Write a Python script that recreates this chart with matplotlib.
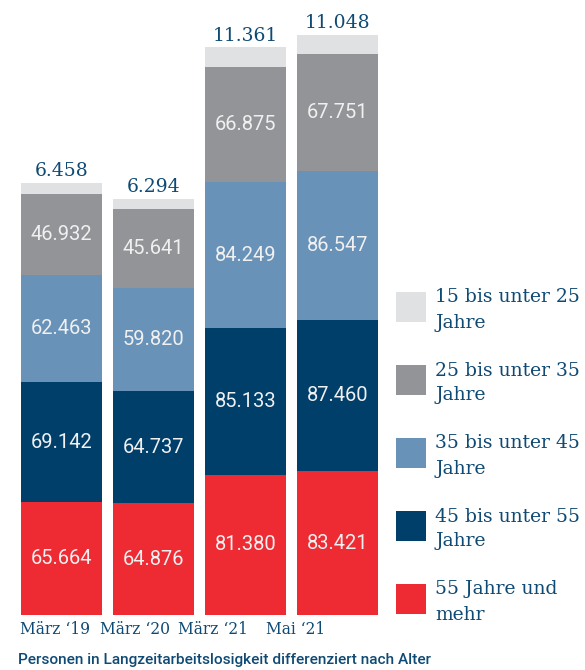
import numpy as np
import matplotlib
matplotlib.use('Agg')
import matplotlib.pyplot as plt
from matplotlib.patches import Rectangle

# data (Personen, Tausender-Punkt als Trennzeichen in den Labels)
categories = ['März \u201819', 'März \u201820', 'März \u201821', 'Mai \u201821']
age_groups = ['15 bis unter 25\nJahre', '25 bis unter 35\nJahre', '35 bis unter 45\nJahre',
              '45 bis unter 55\nJahre', '55 Jahre und\nmehr']
# stacked from bottom to top
age_55_plus = [65664, 64876, 81380, 83421]
age_45_55 = [69142, 64737, 85133, 87460]
age_35_45 = [62463, 59820, 84249, 86547]
age_25_35 = [46932, 45641, 66875, 67751]
age_15_25 = [6458, 6294, 11361, 11048]

navy = '#0f4a74'
colors = {'55': '#ee2a33', '45': '#013f6b', '35': '#6892b8', '25': '#939498', '15': '#e0e1e3'}
serif = ['DejaVu Serif']


def fmt(v):
    return f'{v:,}'.replace(',', '.')


fig = plt.figure(figsize=(5.85, 6.7), dpi=100)
ax = fig.add_axes([15.5 / 585, 55 / 670, 368 / 585, 586.5 / 670])

x = np.arange(len(categories))
series = [('55', age_55_plus), ('45', age_45_55), ('35', age_35_45),
          ('25', age_25_35), ('15', age_15_25)]
bottom = np.zeros(len(categories))
for key, vals in series:
    vals = np.array(vals, dtype=float)
    ax.bar(x, vals, width=0.88, bottom=bottom, color=colors[key], linewidth=0)
    if key != '15':
        for xi, b, v in zip(x, bottom, vals):
            ax.text(xi, b + v / 2, fmt(int(v)), ha='center', va='center',
                    color='#f0f0f0', fontsize=14.5, family='Roboto')
    bottom += vals

# top labels (15 bis unter 25)
for xi, tot, v in zip(x, bottom, age_15_25):
    ax.annotate(fmt(v), (xi, tot), xytext=(0, 5), textcoords='offset points',
                ha='center', va='baseline', color=navy, fontsize=13.5, family=serif)

ax.set_xlim(-0.5, 3.5)
ax.set_ylim(0, 340000)
ax.axis('off')

# category labels (sit slightly left of bar centres in the original)
tick_shift = [-0.07, -0.20, -0.35, -0.46]
for xi, s, lab in zip(x, tick_shift, categories):
    ax.text(xi + s, -3500, lab, ha='center', va='top', color=navy,
            fontsize=11.2, family=serif)

# legend
legend_keys = ['15', '25', '35', '45', '55']
for i, (key, lab) in enumerate(zip(legend_keys, age_groups)):
    yc = 1 - (307 + i * 73) / 670
    fig.patches.append(Rectangle((396 / 585, yc - 15 / 670), 30 / 585, 30 / 670,
                                 transform=fig.transFigure, color=colors[key], lw=0))
    fig.text(435 / 585, yc - 3 / 670, lab, ha='left', va='center', color=navy,
             fontsize=13.5, family=serif, linespacing=1.5)

fig.text(18 / 585, 1 - 664 / 670, 'Personen in Langzeitarbeitslosigkeit differenziert nach Alter',
         ha='left', va='baseline', color=navy, fontsize=11.1, family='Roboto', fontweight='medium')

fig.savefig('out.png', dpi=100)
